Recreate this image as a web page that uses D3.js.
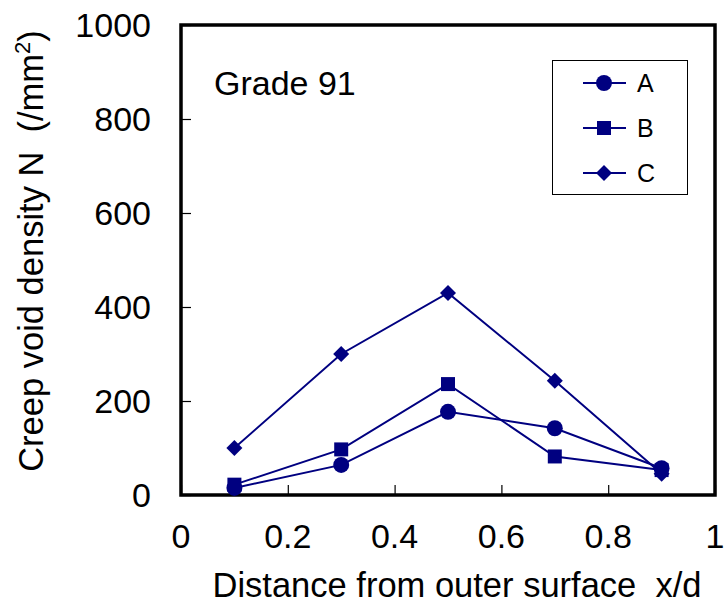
<!DOCTYPE html>
<html>
<head>
<meta charset="utf-8">
<script src="https://cdn.jsdelivr.net/npm/d3@7"></script>
<style>
  body { margin: 0; background: #fff; }
  svg { font-family: "Liberation Sans", Arial, sans-serif; }
</style>
</head>
<body>
<script>
// chart data
const xValues = [0.1, 0.3, 0.5, 0.7, 0.9];
const seriesA = [15, 64, 177, 142, 57];
const seriesB = [22, 97, 236, 82, 53];
const seriesC = [100, 300, 430, 243, 45];
const seriesNames = ["A", "B", "C"];
const xTicks = [0, 0.2, 0.4, 0.6, 0.8, 1];
const yTicks = [0, 200, 400, 600, 800, 1000];

const width = 726, height = 604;
const margin = { left: 181, right: 11, top: 25, bottom: 109 };
const navy = "#000080";

const svg = d3.select("body").append("svg")
    .attr("width", width)
    .attr("height", height);

const x = d3.scaleLinear().domain([0, 1]).range([margin.left, width - margin.right]);
const y = d3.scaleLinear().domain([0, 1000]).range([height - margin.bottom, margin.top]);

// square diamond (Excel style), not the tall d3 one
const squareDiamond = {
    draw(ctx, size) {
        const r = Math.sqrt(size) / 2;
        ctx.moveTo(0, -r);
        ctx.lineTo(r, 0);
        ctx.lineTo(0, r);
        ctx.lineTo(-r, 0);
        ctx.closePath();
    }
};

// axes with ticks pointing inward
const xAxis = svg.append("g")
    .attr("transform", `translate(0,${y(0)})`)
    .call(d3.axisTop(x).tickValues(xTicks).tickSize(10).tickFormat(""));
xAxis.select(".domain").remove();
xAxis.selectAll("line").attr("stroke", "#000").attr("stroke-width", 1.2);

const yAxis = svg.append("g")
    .attr("transform", `translate(${x(0)},0)`)
    .call(d3.axisRight(y).tickValues(yTicks).tickSize(10).tickFormat(""));
yAxis.select(".domain").remove();
yAxis.selectAll("line").attr("stroke", "#000").attr("stroke-width", 1.2);

// tick labels
svg.append("g").selectAll("text")
    .data(xTicks)
    .enter().append("text")
    .attr("x", d => x(d))
    .attr("y", y(0) + 53)
    .attr("text-anchor", "middle")
    .attr("font-size", 34)
    .text(d => d3.format("")(d));

svg.append("g").selectAll("text")
    .data(yTicks)
    .enter().append("text")
    .attr("x", 151)
    .attr("y", d => y(d) + 12)
    .attr("text-anchor", "end")
    .attr("font-size", 34)
    .text(d => d);

// frame
svg.append("rect")
    .attr("x", x(0))
    .attr("y", y(1000))
    .attr("width", x(1) - x(0))
    .attr("height", y(0) - y(1000))
    .attr("fill", "none")
    .attr("stroke", "#000")
    .attr("stroke-width", 3.5);

// series
const series = [
    { name: "A", values: seriesA, symbol: d3.symbolCircle, size: 200 },
    { name: "B", values: seriesB, symbol: d3.symbolSquare, size: 196 },
    { name: "C", values: seriesC, symbol: squareDiamond, size: 256 }
];

const line = d3.line()
    .x((d, i) => x(xValues[i]))
    .y(d => y(d));

series.forEach(s => {
    svg.append("path")
        .datum(s.values)
        .attr("d", line)
        .attr("fill", "none")
        .attr("stroke", navy)
        .attr("stroke-width", 2);
});

series.forEach(s => {
    svg.append("g").selectAll("path")
        .data(s.values)
        .enter().append("path")
        .attr("transform", (d, i) => `translate(${x(xValues[i])},${y(d)})`)
        .attr("d", d3.symbol().type(s.symbol).size(s.size))
        .attr("fill", navy);
});

// annotation
svg.append("text")
    .attr("x", 214)
    .attr("y", 95)
    .attr("font-size", 34)
    .text("Grade 91");

// legend
const legend = svg.append("g");
legend.append("rect")
    .attr("x", 552.5)
    .attr("y", 60.5)
    .attr("width", 135)
    .attr("height", 134)
    .attr("fill", "#fff")
    .attr("stroke", "#000")
    .attr("stroke-width", 1);

series.forEach((s, i) => {
    const ly = 83 + i * 45;
    legend.append("line")
        .attr("x1", 583).attr("x2", 626)
        .attr("y1", ly).attr("y2", ly)
        .attr("stroke", navy)
        .attr("stroke-width", 2);
    legend.append("path")
        .attr("transform", `translate(604,${ly})`)
        .attr("d", d3.symbol().type(s.symbol).size(s.size))
        .attr("fill", navy);
    legend.append("text")
        .attr("x", 637)
        .attr("y", ly + 9)
        .attr("font-size", 25)
        .text(seriesNames[i]);
});

// axis titles
svg.append("text")
    .attr("x", 457)
    .attr("y", 597)
    .attr("text-anchor", "middle")
    .attr("font-size", 34.5)
    .attr("xml:space", "preserve")
    .text("Distance from outer surface  x/d");

const yTitle = svg.append("text")
    .attr("transform", "translate(43,251) rotate(-90)")
    .attr("text-anchor", "middle")
    .attr("font-size", 34.5)
    .attr("xml:space", "preserve");
yTitle.append("tspan").text("Creep void density N  (/mm");
yTitle.append("tspan").attr("font-size", 22).attr("dy", -13).text("2");
yTitle.append("tspan").attr("dy", 13).text(")");
</script>
</body>
</html>
